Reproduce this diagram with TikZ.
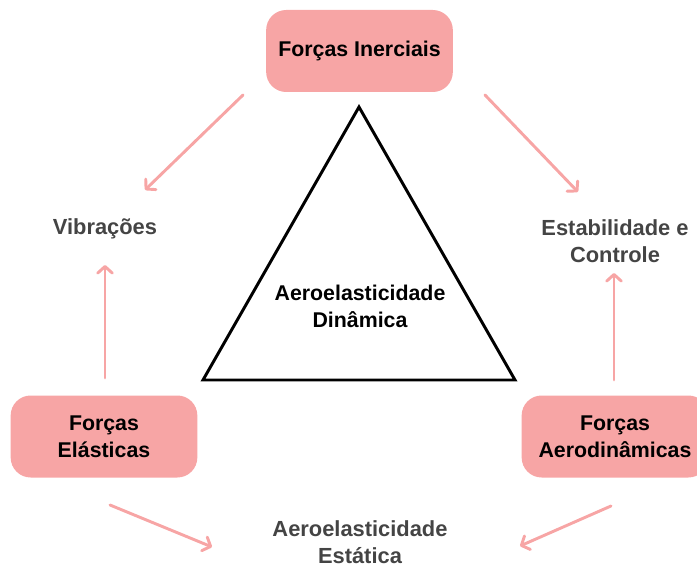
\documentclass[tikz,border=0pt]{standalone}
\usepackage{fontspec}
\setmainfont{Liberation Sans}
\usetikzlibrary{arrows.meta,calc}

\definecolor{rosa}{HTML}{F7A5A5}
\definecolor{cinza}{HTML}{444444}

\tikzset{
  caixa/.style={fill=rosa, rounded corners=15pt, minimum width=140pt,
    minimum height=61.5pt, align=center, text=black,
    font=\bfseries\fontsize{16}{20.25}\selectfont},
  rotulo/.style={align=center, text=cinza,
    font=\bfseries\fontsize{16.4}{20.25}\selectfont},
  seta/.style={draw=rosa, line width=2.2pt, line cap=round,
    -{Straight Barb[length=5pt,width=11pt,round]}},
}

\begin{document}
\begin{tikzpicture}[x=0.75pt,y=-0.75pt]
  \useasboundingbox (0,0) rectangle (697,567);

  % caixas de forcas
  \node[caixa] (inercia) at (359.5,51) {Forças Inerciais};
  \node[caixa] (elastica) at (104,436.5) {Forças\\Elásticas};
  \node[caixa] (aero) at (615,436.5) {Forças\\Aerodinâmicas};

  % efeitos
  \node[rotulo] (vib) at (105,229) {Vibrações};
  \node[rotulo] (estab) at (615,241.5) {Estabilidade e\\Controle};
  \node[rotulo] (estatica) at (360,542) {Aeroelasticidade\\Estática};

  % triangulo central
  \draw[line width=2.2pt, line join=miter] (359,107) -- (515,380) -- (203,380) -- cycle;
  \node[align=center, font=\bfseries\fontsize{16}{20.25}\selectfont] (dinamica) at (360,306)
    {Aeroelasticidade\\Dinâmica};

  \draw[seta] ($(inercia)+(-116.5,44)$) -- ($(vib)+(40,-39)$);
  \draw[seta] ($(inercia)+(125.5,44)$) -- ($(estab)+(-37,-49.5)$);
  \draw[seta] ($(elastica)+(1,-58.5)$) -- ($(vib)+(0,36)$);
  \draw[seta] ($(aero)+(-1,-56.5)$) -- ($(estab)+(-1,31.5)$);
  \draw[seta] ($(elastica)+(6,68.5)$) -- ($(estatica)+(-148,5)$);
  \draw[seta] ($(aero)+(-4,69.5)$) -- ($(estatica)+(160,4)$);
\end{tikzpicture}
\end{document}
